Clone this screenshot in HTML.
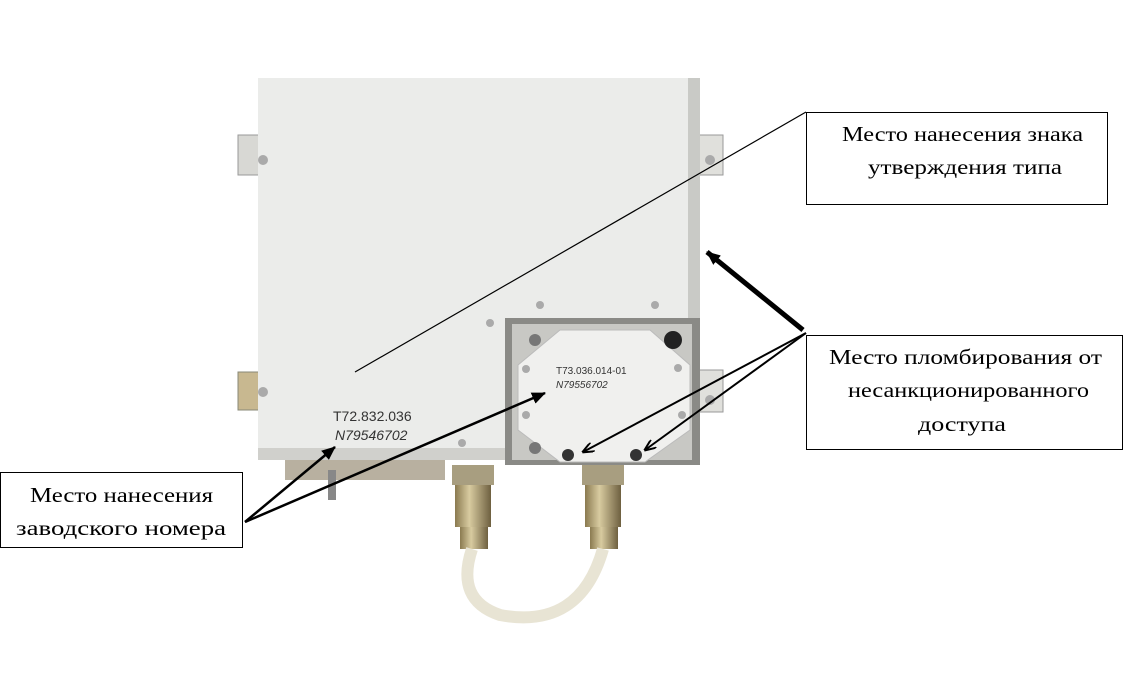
<!DOCTYPE html>
<html><head><meta charset="utf-8"><style>
html,body{margin:0;padding:0;background:#fff;width:1125px;height:677px;overflow:hidden}
svg{display:block}
</style></head><body>
<svg width="1125" height="677" xmlns="http://www.w3.org/2000/svg" font-family="Liberation Serif, serif">
<defs>
<linearGradient id="brass" x1="0" x2="1"><stop offset="0" stop-color="#8a7a50"/><stop offset="0.4" stop-color="#d8cba0"/><stop offset="1" stop-color="#6e6040"/></linearGradient>
<marker id="ah" markerWidth="12" markerHeight="10" refX="11" refY="5" orient="auto" markerUnits="userSpaceOnUse"><path d="M0,0 L12,5 L0,10" fill="none" stroke="#000" stroke-width="2"/></marker>
<marker id="af" markerWidth="14" markerHeight="12" refX="13" refY="6" orient="auto" markerUnits="userSpaceOnUse"><path d="M0,0 L14,6 L0,12 z" fill="#000"/></marker>
</defs>
<rect x="238" y="135" width="24" height="40" fill="#d8d8d4" stroke="#999"/>
<rect x="238" y="372" width="24" height="38" fill="#c8b890" stroke="#887"/>
<rect x="695" y="135" width="28" height="40" fill="#e0e0dc" stroke="#999"/>
<rect x="695" y="370" width="28" height="42" fill="#e0e0dc" stroke="#999"/>
<rect x="258" y="78" width="440" height="380" fill="#ebecea"/>
<rect x="688" y="78" width="12" height="380" fill="#c9cac6"/>
<rect x="258" y="448" width="440" height="12" fill="#d0d0cc"/>
<rect x="285" y="460" width="160" height="20" fill="#b8b0a0"/>
<rect x="328" y="470" width="8" height="30" fill="#888"/>
<rect x="505" y="318" width="195" height="147" fill="#8a8a86"/>
<rect x="512" y="324" width="180" height="136" fill="#c8c8c4"/>
<polygon points="560,330 650,330 690,365 690,430 645,462 560,462 518,430 518,365" fill="#f0f0ee" stroke="#bbb"/>
<circle cx="673" cy="340" r="9" fill="#222"/>
<circle cx="568" cy="455" r="6" fill="#333"/>
<circle cx="636" cy="455" r="6" fill="#333"/>
<circle cx="535" cy="340" r="6" fill="#777"/>
<circle cx="535" cy="448" r="6" fill="#777"/>
<g fill="#aaa"><circle cx="540" cy="305" r="4"/><circle cx="655" cy="305" r="4"/><circle cx="490" cy="323" r="4"/><circle cx="462" cy="443" r="4"/><circle cx="526" cy="369" r="4"/><circle cx="526" cy="415" r="4"/><circle cx="678" cy="368" r="4"/><circle cx="682" cy="415" r="4"/><circle cx="263" cy="160" r="5"/><circle cx="710" cy="160" r="5"/><circle cx="710" cy="400" r="5"/><circle cx="263" cy="392" r="5"/></g>
<text x="556" y="374" font-family="Liberation Sans, sans-serif" font-size="10" fill="#333">T73.036.014-01</text>
<text x="556" y="388" font-family="Liberation Sans, sans-serif" font-size="10" fill="#333" font-style="italic">N79556702</text>
<text x="333" y="421" font-family="Liberation Sans, sans-serif" font-size="14" fill="#333">T72.832.036</text>
<text x="335" y="440" font-family="Liberation Sans, sans-serif" font-size="14" fill="#333" font-style="italic">N79546702</text>
<rect x="452" y="465" width="42" height="20" fill="#a89e80"/>
<rect x="455" y="485" width="36" height="42" fill="url(#brass)"/>
<rect x="460" y="527" width="28" height="22" fill="url(#brass)"/>
<rect x="582" y="465" width="42" height="20" fill="#a89e80"/>
<rect x="585" y="485" width="36" height="42" fill="url(#brass)"/>
<rect x="590" y="527" width="28" height="22" fill="url(#brass)"/>
<path d="M472,549 Q455,600 500,615 Q580,630 603,549" fill="none" stroke="#e8e4d4" stroke-width="12"/>
<line x1="806" y1="112" x2="355" y2="372" stroke="#000" stroke-width="1.2"/>
<line x1="806" y1="333" x2="583" y2="452" stroke="#000" stroke-width="2" marker-end="url(#ah)"/>
<line x1="806" y1="333" x2="645" y2="450" stroke="#000" stroke-width="2" marker-end="url(#ah)"/>
<line x1="803" y1="330" x2="707" y2="252" stroke="#000" stroke-width="5" marker-end="url(#af)"/>
<line x1="245" y1="522" x2="335" y2="447" stroke="#000" stroke-width="2.5" marker-end="url(#af)"/>
<line x1="245" y1="522" x2="545" y2="393" stroke="#000" stroke-width="2.5" marker-end="url(#af)"/>
<rect x="806.5" y="112.5" width="301" height="92" fill="#fff" stroke="#000"/>
<text x="842" y="141" font-size="21" textLength="241" lengthAdjust="spacingAndGlyphs">Место нанесения знака</text>
<text x="868" y="174" font-size="21" textLength="194" lengthAdjust="spacingAndGlyphs">утверждения типа</text>
<rect x="806.5" y="335.5" width="316" height="114" fill="#fff" stroke="#000"/>
<text x="829" y="364" font-size="21" textLength="273" lengthAdjust="spacingAndGlyphs">Место пломбирования от</text>
<text x="848" y="397" font-size="21" textLength="241" lengthAdjust="spacingAndGlyphs">несанкционированного</text>
<text x="918" y="431" font-size="21" textLength="88" lengthAdjust="spacingAndGlyphs">доступа</text>
<rect x="0.5" y="472.5" width="242" height="75" fill="#fff" stroke="#000"/>
<text x="30" y="502" font-size="21" textLength="183" lengthAdjust="spacingAndGlyphs">Место нанесения</text>
<text x="16" y="535" font-size="21" textLength="210" lengthAdjust="spacingAndGlyphs">заводского номера</text>
</svg>
</body></html>
